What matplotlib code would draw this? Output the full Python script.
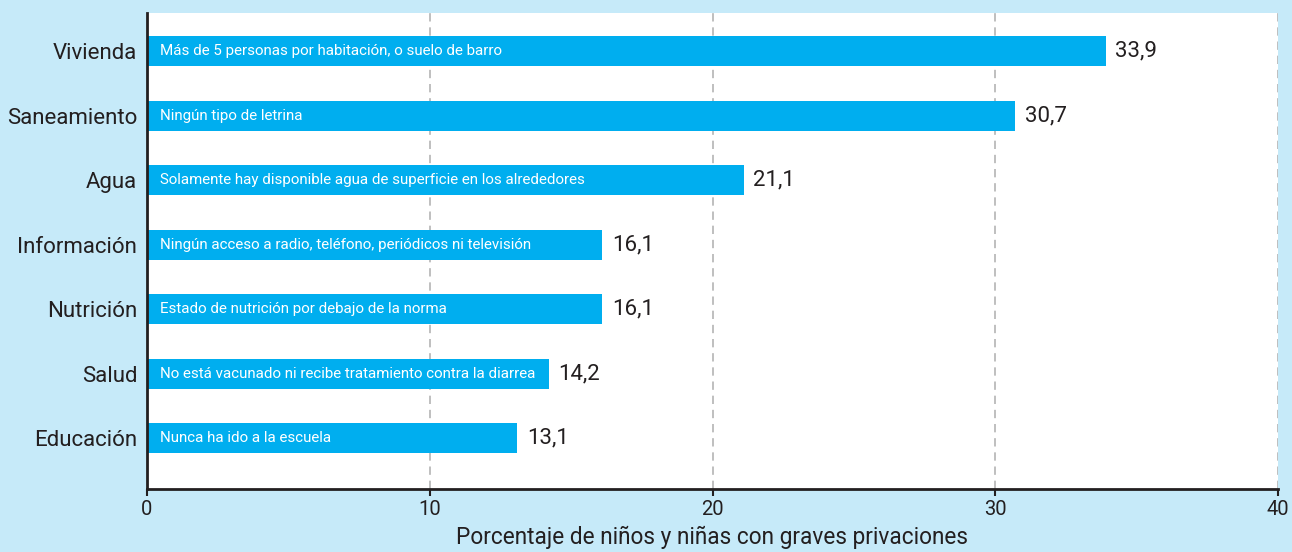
import matplotlib.pyplot as plt

# Datos
categorias = ['Vivienda', 'Saneamiento', 'Agua', 'Información',
              'Nutrición', 'Salud', 'Educación']
valores = [33.9, 30.7, 21.1, 16.1, 16.1, 14.2, 13.1]
descripciones = [
    'Más de 5 personas por habitación, o suelo de barro',
    'Ningún tipo de letrina',
    'Solamente hay disponible agua de superficie en los alrededores',
    'Ningún acceso a radio, teléfono, periódicos ni televisión',
    'Estado de nutrición por debajo de la norma',
    'No está vacunado ni recibe tratamiento contra la diarrea',
    'Nunca ha ido a la escuela',
]
xticks = [0, 10, 20, 30, 40]

fondo = '#c6eaf9'
azul = '#00aeef'
oscuro = '#231f20'

plt.rcParams['font.family'] = ['Roboto', 'DejaVu Sans']

fig = plt.figure(figsize=(12.92, 5.52), dpi=100, facecolor=fondo)
ax = fig.add_axes([147 / 1292, 63 / 552, 1131 / 1292, 476 / 552])
ax.set_facecolor('white')

n = len(categorias)
pos = list(range(n - 1, -1, -1))

for x in xticks[1:]:
    ax.axvline(x, color='#b4b4b4', linestyle=(0, (5, 3.5)), linewidth=1.2, zorder=1)

ax.barh(pos, valores, height=0.465, color=azul, zorder=2)

for p, v, d in zip(pos, valores, descripciones):
    ax.annotate(d, (0, p), xytext=(9.5, 0), textcoords='offset points',
                va='center', ha='left', color='white', fontsize=10.9, zorder=3)
    ax.annotate(f'{v:.1f}'.replace('.', ','), (v, p), xytext=(7, 0),
                textcoords='offset points', va='center', ha='left',
                color=oscuro, fontsize=16)

ax.set_xlim(0, 40)
ax.set_ylim(-0.79, n - 1 + 0.59)
ax.set_yticks(pos)
ax.set_yticklabels(categorias, fontsize=16, color=oscuro)
ax.set_xticks(xticks)
ax.set_xticklabels([str(t) for t in xticks], fontsize=14.5, color=oscuro)
ax.tick_params(axis='y', length=0, pad=7)
ax.tick_params(axis='x', length=5, width=1.5, color=oscuro, pad=3)

for s in ['top', 'right']:
    ax.spines[s].set_visible(False)
for s in ['left', 'bottom']:
    ax.spines[s].set_linewidth(2)
    ax.spines[s].set_color(oscuro)

ax.set_xlabel('Porcentaje de niños y niñas con graves privaciones',
              fontsize=16.3, color=oscuro, labelpad=5)

fig.savefig('out.png', dpi=100, facecolor=fondo)
